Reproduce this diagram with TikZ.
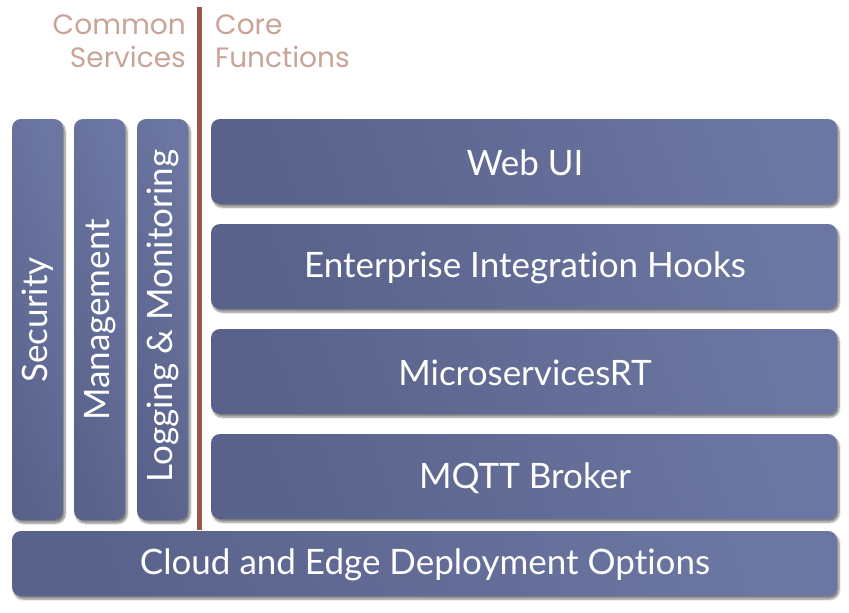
\documentclass[tikz,border=0pt]{standalone}
\usepackage{fontspec}
\setmainfont{Lato}[Ligatures={NoCommon}]
\newfontfamily\hdr{Poppins}
\usetikzlibrary{shadows.blur}
\definecolor{boxdark}{HTML}{59628A}
\definecolor{boxlight}{HTML}{6B76A2}
\definecolor{hdrcol}{HTML}{C9A496}
\definecolor{linecol}{HTML}{9A5747}
\tikzset{
  x=1pt,y=-1pt,
  layerbox/.style={rounded corners=9pt, draw=none,
    left color=boxdark, right color=boxlight, shading angle=110,
    blur shadow={shadow xshift=2pt, shadow yshift=-3pt, shadow blur steps=6, shadow opacity=50}},
  boxtext/.style={text=white, font=\fontsize{35}{40}\selectfont},
  hdrtext/.style={text=hdrcol, font=\hdr\fontsize{28}{33}\selectfont, inner sep=0pt}
}
\begin{document}
\begin{tikzpicture}
\useasboundingbox (0,0) rectangle (849,613);
% divider
\coordinate (ltop) at (199.5,7);
\coordinate (lbot) at (199.5,530);
\draw[linecol, line width=4.3pt] (ltop) -- (lbot);
% headers
\node[hdrtext, align=right, anchor=north east] (common) at (186,15) {Common\\Services};
\node[hdrtext, align=left, anchor=north west] (core) at (215,15) {Core\\Functions};
% vertical boxes
\path[layerbox] (12,119) rectangle (63,520);
\node[boxtext, rotate=90] (sec) at (38,320) {Security};
\path[layerbox] (74,119) rectangle (125,520);
\node[boxtext, rotate=90] (mgmt) at (100,320) {Management};
\path[layerbox] (137,119) rectangle (188,520);
\node[boxtext, rotate=90] (log) at (163,316) {Logging \& Monitoring};
% core boxes
\path[layerbox] (211,119) rectangle (837,204);
\node[boxtext] (web) at (525,163) {Web UI};
\path[layerbox] (211,224) rectangle (837,309);
\node[boxtext] (ent) at (525,268) {Enterprise Integrat\kern0pt ion Hooks};
\path[layerbox] (211,329) rectangle (837,414);
\node[boxtext] (micro) at (525,373) {MicroservicesRT};
\path[layerbox] (211,434) rectangle (837,519);
\node[boxtext] (mqtt) at (525,478) {MQTT Broker};
% bottom
\path[layerbox] (12,531) rectangle (837,596);
\node[boxtext] (cloud) at (425,565) {Cloud and Edge Deployment Opt\kern0pt ions};
\end{tikzpicture}
\end{document}
